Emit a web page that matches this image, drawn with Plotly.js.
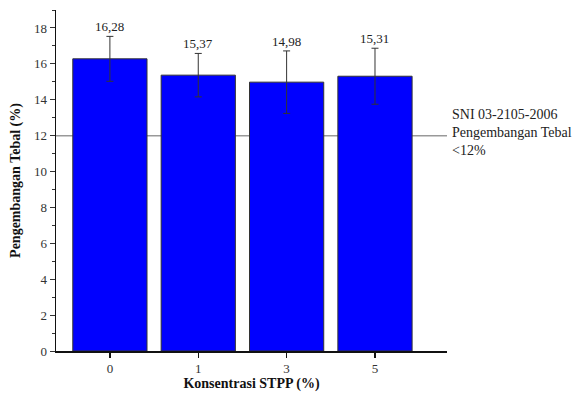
<!DOCTYPE html>
<html>
<head>
<meta charset="utf-8">
<script src="https://cdn.plot.ly/plotly-3.0.1.min.js"></script>
<style>html,body{margin:0;padding:0;background:#fff;}#chart{width:579px;height:394px;}</style>
</head>
<body>
<div id="chart"></div>
<script>
var categories = ["0", "1", "3", "5"];
var values = [16.28, 15.37, 14.98, 15.31];
var errors = [1.25, 1.21, 1.74, 1.56];
var standardValue = 12;
var standardLabel = ["SNI 03-2105-2006", "Pengembangan Tebal", "<12%"];

var fontFam = "'Liberation Serif', 'Times New Roman', serif";

var trace = {
  type: "bar",
  x: categories,
  y: values,
  width: 0.84,
  marker: {color: "#0000FF", line: {color: "#333333", width: 1}},
  error_y: {type: "data", array: errors, visible: true, color: "#333333", thickness: 1, width: 3.5},
  hoverinfo: "none"
};

var annotations = values.map(function (v, i) {
  return {
    x: i, y: v + errors[i], xref: "x", yref: "y",
    text: v.toFixed(2).replace(".", ","), showarrow: false,
    yanchor: "bottom", yshift: 0,
    font: {family: fontFam, size: 13, color: "#222"}
  };
});
annotations.push({
  xref: "paper", yref: "y", x: 1, y: standardValue, xanchor: "left", yanchor: "middle",
  xshift: 3, yshift: 3, align: "left", showarrow: false,
  text: standardLabel.join("<br>"),
  font: {family: fontFam, size: 14, color: "#222"}
});

var layout = {
  width: 579, height: 394,
  margin: {l: 56, r: 132, t: 10, b: 43},
  paper_bgcolor: "#fff", plot_bgcolor: "#fff",
  showlegend: false,
  font: {family: fontFam, size: 13, color: "#333"},
  xaxis: {
    type: "category", range: [-0.61, 3.815],
    showgrid: false, zeroline: false,
    showline: true, linecolor: "#111", linewidth: 1.5,
    ticks: "outside", ticklen: 5, tickwidth: 1.5, tickcolor: "#111",
    tickfont: {family: fontFam, size: 13, color: "#333"},
    title: {text: "<b>Konsentrasi STPP (%)</b>", standoff: 3, font: {family: fontFam, size: 14, color: "#111"}}
  },
  yaxis: {
    range: [0, 19], dtick: 2, tick0: 0,
    showgrid: false, zeroline: false,
    showline: true, linecolor: "#111", linewidth: 1.5,
    ticks: "outside", ticklen: 5, tickwidth: 1, tickcolor: "#333",
    minor: {dtick: 1, ticks: "outside", ticklen: 3, tickcolor: "#333", tickwidth: 1},
    tickfont: {family: fontFam, size: 13, color: "#333"},
    title: {text: "<b>Pengembangan Tebal (%)</b>", standoff: 10, font: {family: fontFam, size: 14, color: "#111"}}
  },
  shapes: [{
    type: "line", xref: "paper", yref: "y", x0: 0, x1: 1, y0: standardValue, y1: standardValue,
    line: {color: "#999", width: 1.5}, layer: "below"
  }],
  annotations: annotations,
  bargap: 0.16
};

Plotly.newPlot("chart", [trace], layout, {displayModeBar: false, staticPlot: true});
</script>
</body>
</html>
